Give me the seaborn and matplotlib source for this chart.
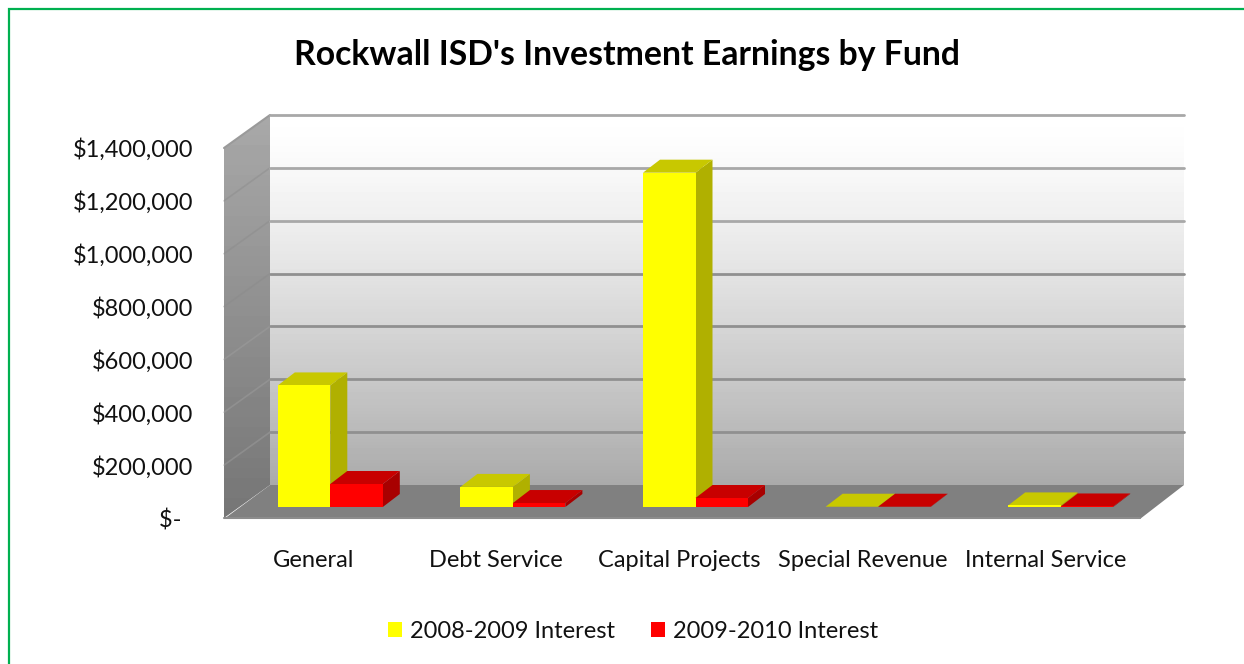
import numpy as np
import pandas as pd
import seaborn as sns
import matplotlib.pyplot as plt
from matplotlib.patches import Polygon

# values
funds = ["General", "Debt Service", "Capital Projects", "Special Revenue", "Internal Service"]
interest_0809 = [460000, 76000, 1265000, 1000, 6000]
interest_0910 = [87000, 15000, 34000, 1000, 2000]
series_names = ["2008-2009 Interest", "2009-2010 Interest"]
y_ticks = [0, 200000, 400000, 600000, 800000, 1000000, 1200000, 1400000]
y_labels = ["$-\u00a0\u00a0", "$200,000", "$400,000", "$600,000", "$800,000",
            "$1,000,000", "$1,200,000", "$1,400,000"]

W, H = 1244, 664
sns.set_theme(style="white")
plt.rcParams["font.family"] = ["Lato", "DejaVu Sans"]

data = pd.DataFrame({
    "fund": funds * 2,
    "value": interest_0809 + interest_0910,
    "series": [series_names[0]] * 5 + [series_names[1]] * 5,
})

fig = plt.figure(figsize=(W / 100, H / 100), dpi=100, facecolor="white")


def px_axes(left, top, right, bottom, z):
    a = fig.add_axes([left / W, 1 - bottom / H, (right - left) / W, (bottom - top) / H], zorder=z)
    a.patch.set_visible(False)
    return a


# ---------------- Frame, floor and side wall ----------------
bg = px_axes(0, 0, W, H, 0)
bg.axis("off")
side = bg.imshow(np.linspace(168, 118, 40)[:, None], cmap="gray", vmin=0, vmax=255, aspect="auto",
                 extent=(224, 270, 518, 115))
side.set_clip_path(Polygon([(224, 148), (270, 115), (270, 485), (224, 518)],
                           transform=bg.transData))
bg.add_patch(Polygon([(224, 519), (270, 485), (1184, 485), (1140, 519)], color="#808080", lw=0))
bg.plot([224, 1140], [518, 518], color="#8c8c8c", lw=1.5)
bg.plot([224, 270], [148, 115], color="#9a9a9a", lw=1.5)
bg.plot([8.5, 8.5, W], [H, 9, 9], color="#00b050", lw=1.6, solid_joinstyle="miter")
for v in y_ticks[1:-1]:
    y_wall = 485 - v / 1400000 * 370
    bg.plot([224, 270], [y_wall + 33, y_wall], lw=1.2,
            color="#8a8a8a" if v > 600000 else "#a0a0a0", alpha=0.45)
bg.set_xlim(0, W)
bg.set_ylim(H, 0)

# ---------------- Back wall ----------------
wall = px_axes(270, 115, 1184, 485, 1)
shade = 255 - 85 * np.linspace(0, 1, 120) ** 1.3
wall.imshow(shade[:, None], cmap="gray", vmin=0, vmax=255, aspect="auto",
            extent=(0, 1, 0, 1400000), origin="upper")
for v in y_ticks[1:]:
    wall.axhline(v, lw=2.0, color="#a8a8a8" if v > 800000 else "#909090", clip_on=False)
wall.set_xlim(0, 1)
wall.set_ylim(0, 1400000)
wall.axis("off")

# ---------------- Tick labels sit on the front plane ----------------
front = px_axes(221.5, 148, 1137.5, 519, 2)
front.set_xlim(-0.5, 4.5)
front.set_ylim(0, 1400000)
front.set_xticks(range(5), funds)
front.set_yticks(y_ticks, y_labels)
front.tick_params(axis="both", length=0, labelsize=17, colors="#111111")
front.tick_params(axis="x", pad=22)
front.tick_params(axis="y", pad=20)
for s in front.spines.values():
    s.set_visible(False)

# ---------------- Bars ----------------
ax = px_axes(239, 137, 1152, 507, 3)
sns.barplot(data=data, x="fund", y="value", hue="series", order=funds, hue_order=series_names,
            palette=["#ffff00", "#ff0000"], saturation=1, width=0.575, gap=0, linewidth=0, ax=ax)
ax.set_xlim(-0.5, 4.5)
ax.set_ylim(0, 1400000)
ax.axis("off")

dx = 17 / 913 * 5
dy = 13 / 370 * 1400000
top_colors = ["#c8c800", "#c80000"]
side_colors = ["#b0b000", "#a80000"]
for i in range(len(funds)):
    for j, bars in enumerate(ax.containers):
        bar = bars[i]
        x0, x1 = bar.get_x(), bar.get_x() + bar.get_width()
        h = bar.get_height()
        z = 10 + (i * 2 + j) * 3
        ax.add_patch(Polygon([(x1, 0), (x1 + dx, dy), (x1 + dx, h + dy), (x1, h)],
                             color=side_colors[j], lw=0, zorder=z, clip_on=False))
        ax.add_patch(Polygon([(x0, h), (x0 + dx, h + dy), (x1 + dx, h + dy), (x1, h)],
                             color=top_colors[j], lw=0, zorder=z + 1, clip_on=False))
        bar.set_zorder(z + 2)

handles, labels = ax.get_legend_handles_labels()
ax.get_legend().remove()
fig.legend(handles, labels, ncol=2, frameon=False, loc="center", fontsize=17,
           bbox_to_anchor=(633 / W, 1 - 631 / H), borderpad=0, borderaxespad=0,
           handlelength=0.6, handleheight=0.6, handletextpad=0.34, columnspacing=1.5,
           labelcolor="#111111")

fig.text(627 / W, 1 - 55 / H, "Rockwall ISD's Investment Earnings by Fund", ha="center", va="center",
         fontsize=24.3, fontweight="bold", color="black")

plt.savefig("out.png", dpi=100)
